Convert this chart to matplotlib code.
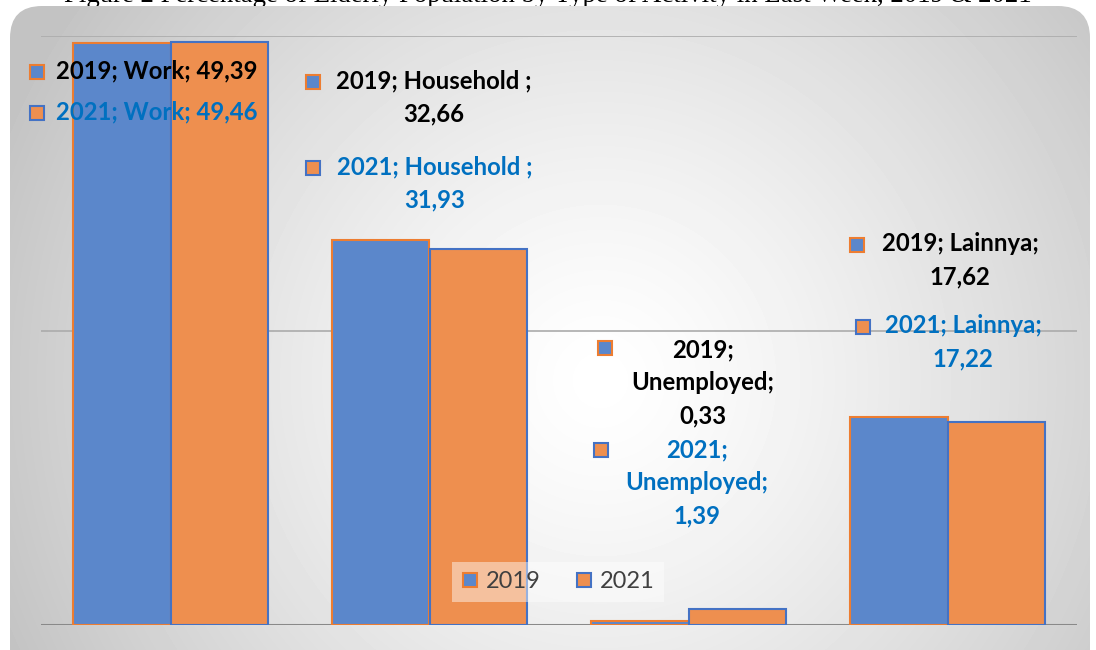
import numpy as np
import matplotlib.pyplot as plt
from matplotlib.patches import FancyBboxPatch
from matplotlib.lines import Line2D

# chart data
categories = ['Work', 'Household ', 'Unemployed', 'Lainnya']
years = ['2019', '2021']
values_2019 = [49.39, 32.66, 0.33, 17.62]
values_2021 = [49.46, 31.93, 1.39, 17.22]
title = 'Figure 2 Percentage of Elderly Population by Type of Activity in Last Week, 2019 & 2021'

W, H = 1096, 650
blue = '#5B87CB'
orange = '#EE8F4F'
blue_edge = '#4472C4'
orange_edge = '#ED7D31'
font = 'Lato'

fig = plt.figure(figsize=(W / 100, H / 100), dpi=100)

# background panel with a soft radial gradient
bg = fig.add_axes([0, 0, 1, 1], zorder=0)
bg.set_xlim(0, W)
bg.set_ylim(H, 0)
bg.axis('off')
bg.text(W / 2, 2, title, family='Liberation Serif', fontsize=19.3,
        ha='center', va='baseline', zorder=0)
yy, xx = np.mgrid[0:H, 0:W]
d = np.hypot(xx - 600, yy - 380) / 650
shade = (255 - 60 * np.clip(d, 0, 1) ** 1.3) / 255
img = bg.imshow(shade, cmap='gray', vmin=0, vmax=1, extent=(0, W, H, 0),
                zorder=1, interpolation='bilinear')
panel = FancyBboxPatch((10, 6), W - 16, H + 30, boxstyle='round,pad=0,rounding_size=32',
                       transform=bg.transData, facecolor='none', edgecolor='none')
bg.add_patch(panel)
img.set_clip_path(panel)

# bar chart
ax = fig.add_axes([41 / W, 1 - 625 / H, (1077 - 41) / W, (625 - 36) / H], zorder=1)
ax.patch.set_alpha(0)
x = np.arange(len(categories))
w = 0.378
ax.bar(x - w / 2, values_2019, w, color=blue, edgecolor=orange_edge, linewidth=1.5, zorder=3)
ax.bar(x + w / 2, values_2021, w, color=orange, edgecolor=blue_edge, linewidth=1.5, zorder=3)
ax.set_xlim(-0.5, len(categories) - 0.5)
ax.set_ylim(0, 50)
ax.set_yticks([25, 50])
ax.grid(axis='y', color='#ABABAB', linewidth=1.2)
ax.set_axisbelow(True)
ax.axhline(0, color='#898989', linewidth=2.2, zorder=2)
for s in ax.spines.values():
    s.set_visible(False)
ax.tick_params(left=False, bottom=False, labelleft=False, labelbottom=False)

# data labels (pixel layout)
ov = fig.add_axes([0, 0, 1, 1], zorder=2)
ov.set_xlim(0, W)
ov.set_ylim(H, 0)
ov.axis('off')

templates = ['{y}; {c}; {v}', '{y}; {c};\n{v}', '{y};\n{c};\n{v}', '{y}; {c};\n{v}']
# (marker x, marker y, text center x, text first line y)
layout_2019 = [(37, 72, 157, 72), (313, 82, 434, 82), (605, 348, 703, 351), (857, 245, 960, 245)]
layout_2021 = [(37, 113, 157, 113), (313, 168, 435, 168), (601, 450, 697, 451), (863, 327, 963, 327)]

for yr, vals, lay, fc, ec, tc in [('2019', values_2019, layout_2019, blue, orange_edge, 'black'),
                                  ('2021', values_2021, layout_2021, orange, blue_edge, '#0070C0')]:
    for i, c in enumerate(categories):
        txt = templates[i].format(y=yr, c=c, v=f'{vals[i]:.2f}'.replace('.', ','))
        mx, my, tx, ty = lay[i]
        ov.plot(mx, my, marker='s', markersize=10, markerfacecolor=fc,
                markeredgecolor=ec, markeredgewidth=1.5)
        ov.text(tx, ty - 13, txt, family=font, fontweight='bold', fontsize=17.2,
                color=tc, ha='center', va='top', linespacing=1.55)

# legend
handles = [Line2D([], [], linestyle='none', marker='s', markersize=10, markerfacecolor=blue,
                  markeredgecolor=orange_edge, markeredgewidth=1.5),
           Line2D([], [], linestyle='none', marker='s', markersize=10, markerfacecolor=orange,
                  markeredgecolor=blue_edge, markeredgewidth=1.5)]
leg = fig.legend(handles, years, loc='center', bbox_to_anchor=(558 / W, 1 - 582 / H),
                 ncol=2, frameon=True, fancybox=False, prop={'family': font, 'size': 17},
                 labelcolor='#404040', handlelength=0.7, handletextpad=0.3,
                 columnspacing=1.5, borderpad=0.4)
leg.get_frame().set_facecolor('white')
leg.get_frame().set_alpha(0.45)
leg.get_frame().set_edgecolor('none')
leg.set_zorder(5)

fig.savefig('out.png', dpi=100)
